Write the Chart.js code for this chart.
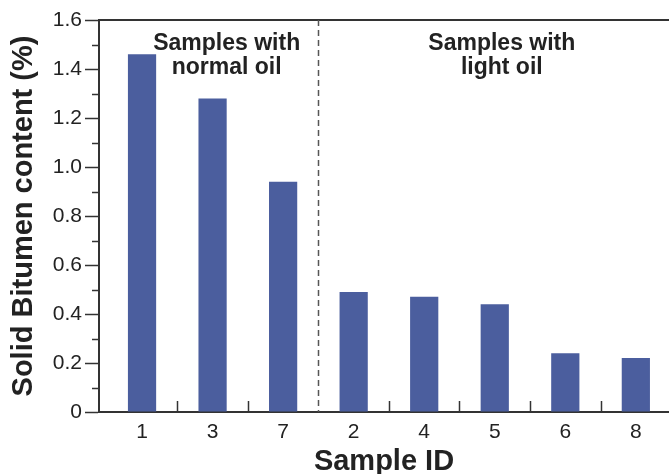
<!DOCTYPE html>
<html>
<head>
<meta charset="utf-8">
<script src="https://cdn.jsdelivr.net/npm/chart.js@4.4.1/dist/chart.umd.min.js"></script>
<style>
  html, body { margin: 0; padding: 0; background: #fff; overflow: hidden; }
  #wrap { width: 669px; height: 474px; position: relative; }
</style>
</head>
<body>
<div id="wrap"><canvas id="chart"></canvas></div>
<script>
// data
var sampleIds = ['1', '3', '7', '2', '4', '5', '6', '8'];
var bitumen = [1.46, 1.28, 0.94, 0.49, 0.47, 0.44, 0.24, 0.22];
var yTickLabels = ['0', '0.2', '0.4', '0.6', '0.8', '1.0', '1.2', '1.4', '1.6'];
var groupNotes = [['Samples with', 'normal oil'], ['Samples with', 'light oil']];
var groupNoteAt = [1.2, 5.1];      // x position of each note, in sample slots
var splitAfter = 2;                // dashed line sits after the 3rd sample

var axisColor = '#333';
var font = "'Liberation Sans', Arial, sans-serif";

var extras = {
  id: 'extras',
  afterDraw: function(chart) {
    var ctx = chart.ctx;
    var x = chart.scales.x;
    var y = chart.scales.y;
    var area = chart.chartArea;
    ctx.save();
    ctx.strokeStyle = axisColor;
    ctx.lineWidth = 1.5;

    // top frame line
    ctx.beginPath();
    ctx.moveTo(area.left, area.top);
    ctx.lineTo(area.right, area.top);
    ctx.lineWidth = 2;
    ctx.stroke();
    ctx.lineWidth = 1.5;

    // minor y ticks
    for (var v = 0.1; v < 1.6; v += 0.2) {
      var py = Math.round(y.getPixelForValue(v)) + 0.5;
      ctx.beginPath();
      ctx.moveTo(area.left - 7, py);
      ctx.lineTo(area.left, py);
      ctx.stroke();
    }

    // inward x ticks between samples
    for (var i = 0; i < sampleIds.length - 1; i++) {
      if (i === splitAfter) continue;
      var px = Math.round(x.getPixelForValue(i + 0.5)) + 0.5;
      ctx.beginPath();
      ctx.moveTo(px, area.bottom);
      ctx.lineTo(px, area.bottom - 11);
      ctx.stroke();
    }

    // dashed divider
    var dx = Math.round(x.getPixelForValue(splitAfter + 0.5)) + 0.5;
    ctx.setLineDash([6, 4]);
    ctx.strokeStyle = '#555';
    ctx.beginPath();
    ctx.moveTo(dx, area.top);
    ctx.lineTo(dx, area.bottom);
    ctx.stroke();
    ctx.setLineDash([]);

    // group notes
    ctx.fillStyle = '#222';
    ctx.font = 'bold 23px ' + font;
    ctx.textAlign = 'center';
    ctx.textBaseline = 'alphabetic';
    groupNotes.forEach(function(lines, g) {
      var cx = x.getPixelForValue(groupNoteAt[g]);
      ctx.fillText(lines[0], cx, area.top + 30);
      ctx.fillText(lines[1], cx, area.top + 54);
    });
    ctx.restore();
  }
};

var ctx = document.getElementById('chart');
var myChart = new Chart(ctx, { // eslint-disable-line
  type: 'bar',
  data: {
    datasets: [{
      label: 'Solid Bitumen content',
      data: bitumen.map((v, i) => ({ x: i, y: v })),
      backgroundColor: '#4b5e9e',
      borderWidth: 0,
      barPercentage: 0.5,
      categoryPercentage: 0.8
    }]
  },
  options: {
    responsive: true,
    maintainAspectRatio: false,
    devicePixelRatio: 1,
    animation: false,
    layout: { padding: { top: 20, left: 0, right: 0, bottom: 0 } },
    plugins: {
      legend: { display: false },
      tooltip: { enabled: false }
    },
    scales: {
      x: {
        type: 'linear',
        offset: false,
        min: -0.61,
        max: 7.47,
        afterFit: function(scale) { scale.height = 62; },
        afterBuildTicks: function(scale) {
          scale.ticks = sampleIds.map((s, i) => ({ value: i }));
        },
        grid: { display: false, offset: false },
        border: { display: true, color: axisColor, width: 2 },
        ticks: {
          autoSkip: false,
          maxRotation: 0,
          padding: 0,
          color: '#222',
          font: { family: font, size: 21 },
          callback: (v, i) => sampleIds[i]
        },
        title: {
          display: true,
          text: 'Sample ID',
          color: '#222',
          padding: 0,
          font: { family: font, size: 29, weight: 'bold', lineHeight: 0.85 }
        }
      },
      y: {
        min: 0,
        max: 1.6,
        afterFit: function(scale) { scale.width = 99; },
        grid: {
          drawOnChartArea: false,
          drawTicks: true,
          tickLength: 14,
          tickColor: axisColor,
          tickWidth: 1.5
        },
        border: { display: true, color: axisColor, width: 2 },
        ticks: {
          stepSize: 0.2,
          padding: 3,
          color: '#222',
          font: { family: font, size: 21 },
          callback: (v, i) => yTickLabels[i]
        },
        title: {
          display: true,
          text: 'Solid Bitumen content (%)',
          color: '#222',
          padding: { top: 7, bottom: 0 },
          font: { family: font, size: 29, weight: 'bold', lineHeight: 1.2 }
        }
      }
    }
  },
  plugins: [extras]
});
</script>
</body>
</html>
